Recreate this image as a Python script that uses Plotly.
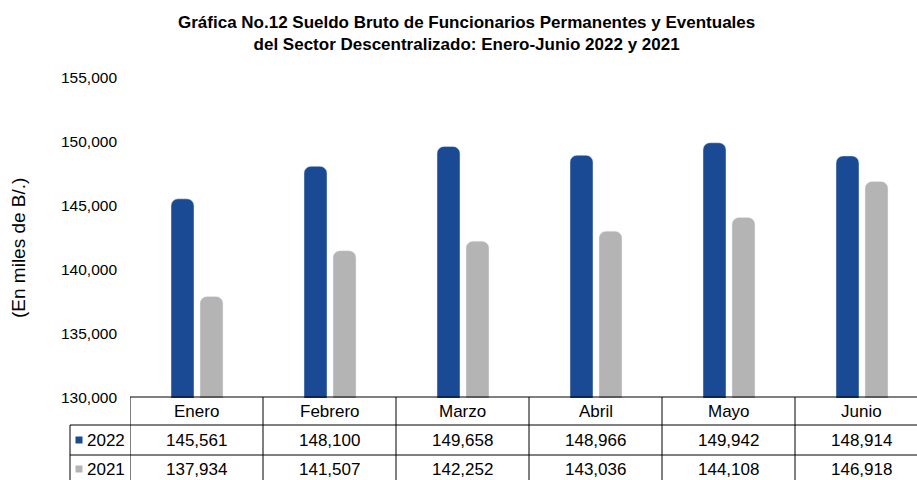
import plotly.graph_objects as go

meses = ["Enero", "Febrero", "Marzo", "Abril", "Mayo", "Junio"]
serie_2022 = [145561, 148100, 149658, 148966, 149942, 148914]
serie_2021 = [137934, 141507, 142252, 143036, 144108, 146918]
nombres = ["2022", "2021"]
colores = ["#1a4a94", "#b4b4b4"]
y_ticks = [130000, 135000, 140000, 145000, 150000, 155000]

FONT = "Liberation Sans, Arial, sans-serif"
TITLE_FONT = "Liberation Sans Narrow, Arial Narrow, Liberation Sans, Arial, sans-serif"

W, H = 917, 480
ML, MT, MB = 130, 78, 82
PW = W - ML
PH = H - MT - MB
COLW = 133.0  # pixels per category
x_hi = -0.5 + PW / COLW

def py(p):
    """pixel y (from top) -> paper y"""
    return (H - MB - p) / PH

def px(p):
    return (p - ML) / PW

xs = list(range(len(meses)))
bw = 23 / COLW

fig = go.Figure()
fig.add_trace(go.Bar(x=xs, y=serie_2022, name=nombres[0], marker_color=colores[0],
                     width=bw, offset=(-14 - 11.5) / COLW))
fig.add_trace(go.Bar(x=xs, y=serie_2021, name=nombres[1], marker_color=colores[1],
                     width=bw, offset=(15 - 11.5) / COLW))

shapes = []
line = dict(color="black", width=1)
shapes.append(dict(type="line", xref="x", yref="paper", x0=-0.5, x1=x_hi + 0.2,
                   y0=py(397), y1=py(397), line=line))
for yy in (425, 455):
    shapes.append(dict(type="line", xref="paper", yref="paper", x0=px(70), x1=1.05,
                       y0=py(yy), y1=py(yy), line=line))
shapes.append(dict(type="line", xref="paper", yref="paper", x0=px(70), x1=px(70),
                   y0=py(425), y1=py(495), line=line))
for i in range(len(meses)):
    shapes.append(dict(type="line", xref="x", yref="paper", x0=i - 0.5, x1=i - 0.5,
                       y0=py(397), y1=py(495), line=line))
for yy, c in zip((440, 469), colores):
    shapes.append(dict(type="rect", xref="paper", yref="paper", x0=px(75.5), x1=px(82.5),
                       y0=py(yy + 3.5), y1=py(yy - 3.5), fillcolor=c, line=dict(width=0)))

annotations = []
tf = dict(family=FONT, size=17, color="black")
for i, m in enumerate(meses):
    annotations.append(dict(x=i, y=py(411.5), xref="x", yref="paper", text=m,
                            showarrow=False, font=tf, xanchor="center", yanchor="middle"))
    annotations.append(dict(x=i, y=py(440.5), xref="x", yref="paper", text=f"{serie_2022[i]:,}",
                            showarrow=False, font=tf, xanchor="center", yanchor="middle"))
    annotations.append(dict(x=i, y=py(469.5), xref="x", yref="paper", text=f"{serie_2021[i]:,}",
                            showarrow=False, font=tf, xanchor="center", yanchor="middle"))
for nm, yy in zip(nombres, (440.5, 469.5)):
    annotations.append(dict(x=px(85), y=py(yy), xref="paper", yref="paper", text=nm,
                            showarrow=False, font=tf, xanchor="left", yanchor="middle"))
annotations.append(dict(x=px(18), y=py(248), xref="paper", yref="paper",
                        text="(En miles de B/.)", textangle=-90, showarrow=False,
                        font=dict(family=FONT, size=19, color="black"),
                        xanchor="center", yanchor="middle"))
annotations.append(dict(x=(466 - ML) / PW, y=py(33), xref="paper", yref="paper",
                        text="<b>Gráfica No.12 Sueldo Bruto de Funcionarios Permanentes y Eventuales<br>del Sector Descentralizado: Enero-Junio 2022 y 2021</b>",
                        showarrow=False, font=dict(family=TITLE_FONT, size=17, color="black"),
                        xanchor="center", yanchor="middle"))

fig.update_layout(
    width=W, height=H,
    margin=dict(l=ML, r=0, t=MT, b=MB, pad=0),
    paper_bgcolor="white", plot_bgcolor="white",
    showlegend=False,
    barmode="overlay",
    barcornerradius=7,
    xaxis=dict(range=[-0.5, x_hi], showticklabels=False, showgrid=False, zeroline=False,
               showline=False, ticks=""),
    yaxis=dict(range=[130000, 155000], tickvals=y_ticks, tickformat=",d",
               showgrid=False, zeroline=False, showline=False, ticks="",
               ticklabelstandoff=12,
               tickfont=dict(family=FONT, size=15.5, color="black")),
    shapes=shapes,
    annotations=annotations,
)

fig.write_html("out.html", config={"displayModeBar": False},
               post_script="document.body.style.margin='0';document.body.style.overflow='hidden';")
